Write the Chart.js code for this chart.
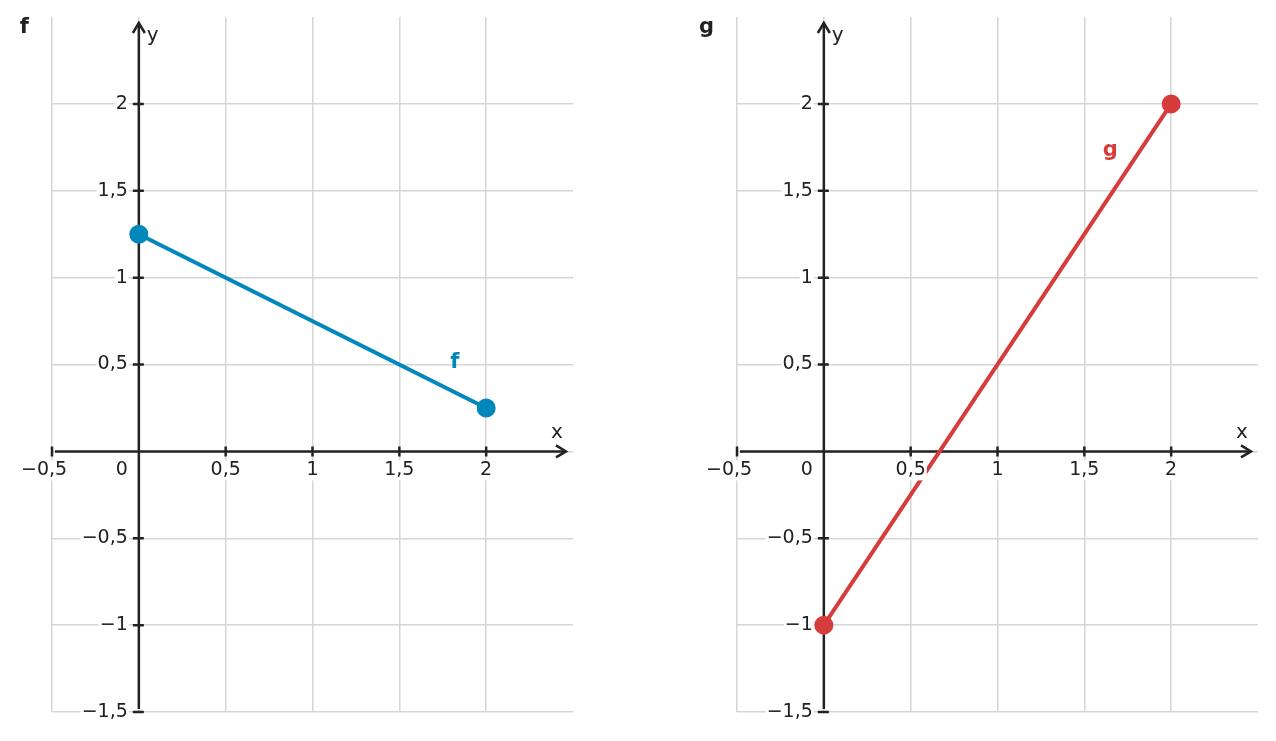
<!DOCTYPE html>
<html>
<head>
<meta charset="utf-8">
<script src="https://cdn.jsdelivr.net/npm/chart.js@4"></script>
<style>
  body { margin: 0; background: #fff; }
  .box { position: absolute; top: 0; width: 638px; height: 741px; }
</style>
</head>
<body>
<div class="box" style="left:0px"><canvas id="cf"></canvas></div>
<div class="box" style="left:685px"><canvas id="cg"></canvas></div>
<script>
// ******************************************************** DATA
var fX = [0, 2];
var fY = [1.25, 0.25];
var gX = [0, 2];
var gY = [-1, 2];
var xTicks = [-0.5, 0.5, 1, 1.5, 2];
var yTicks = [-1.5, -1, -0.5, 0.5, 1, 1.5, 2];

var FONT = "'DejaVu Sans', sans-serif";
var AXIS = '#222222';

function fmt(v) {
  return (v < 0 ? '\u2212' : '') + String(Math.abs(v)).replace('.', ',');
}

// ******************************************************** AXES PLUGIN
var axesPlugin = {
  id: 'axesAtZero',
  beforeDatasetsDraw: function (chart) {
    var ctx = chart.ctx, xs = chart.scales.x, ys = chart.scales.y;
    var x0 = xs.getPixelForValue(0), y0 = ys.getPixelForValue(0);
    var xl = xs.getPixelForValue(-0.5) + 3, xr = xs.getPixelForValue(2.5) - 7;
    var yb = ys.getPixelForValue(-1.5) - 3, yt = ys.getPixelForValue(2.5) + 6;
    ctx.save();
    ctx.strokeStyle = AXIS; ctx.lineWidth = 2.5; ctx.lineCap = 'butt';
    ctx.beginPath();
    ctx.moveTo(xl, y0); ctx.lineTo(xr, y0);
    ctx.moveTo(x0, yb); ctx.lineTo(x0, yt);
    ctx.stroke();
    // arrow heads
    ctx.lineJoin = 'miter';
    ctx.beginPath();
    ctx.moveTo(xr - 10, y0 - 6); ctx.lineTo(xr, y0); ctx.lineTo(xr - 10, y0 + 6);
    ctx.moveTo(x0 - 6, yt + 10); ctx.lineTo(x0, yt); ctx.lineTo(x0 + 6, yt + 10);
    ctx.stroke();
    // tick marks
    ctx.beginPath();
    xTicks.forEach(function (v) {
      var p = xs.getPixelForValue(v);
      ctx.moveTo(p, y0 - 5); ctx.lineTo(p, y0 + 5);
    });
    yTicks.forEach(function (v) {
      var p = ys.getPixelForValue(v);
      ctx.moveTo(x0 - 6, p); ctx.lineTo(x0 + 5, p);
    });
    ctx.stroke();
    ctx.restore();
  },
  afterDatasetsDraw: function (chart, args, opts) {
    var ctx = chart.ctx, xs = chart.scales.x, ys = chart.scales.y;
    var x0 = xs.getPixelForValue(0), y0 = ys.getPixelForValue(0);
    ctx.save();
    ctx.font = '19px ' + FONT;
    ctx.textBaseline = 'middle';
    ctx.textAlign = 'left';
    function label(t, lx, y) {
      var w = ctx.measureText(t).width;
      ctx.fillStyle = '#fff';
      ctx.fillRect(lx - 1, y - 10, w + 2, 20);
      ctx.fillStyle = AXIS;
      ctx.fillText(t, lx, y);
    }
    xTicks.forEach(function (v) {
      var t = fmt(v);
      // centre the number, let the minus sign hang out to the left
      var num = ctx.measureText(String(Math.abs(v)).replace('.', ',')).width;
      var w = ctx.measureText(t).width;
      label(t, xs.getPixelForValue(v) - num / 2 - (w - num), y0 + 19);
    });
    yTicks.forEach(function (v) {
      var t = fmt(v);
      label(t, x0 - 11 - ctx.measureText(t).width, ys.getPixelForValue(v));
    });
    label('0', x0 - 11 - ctx.measureText('0').width, y0 + 19);
    ctx.fillStyle = AXIS;
    ctx.font = '20px ' + FONT;
    ctx.fillText('y', x0 + 8, ys.getPixelForValue(2.5) + 19);
    ctx.fillText('x', xs.getPixelForValue(2.5) - 22, y0 - 19);
    // panel title
    ctx.font = 'bold 21px ' + FONT;
    ctx.textAlign = 'right';
    ctx.fillText(opts.title, xs.left - 23, 28);
    // curve name
    ctx.fillStyle = opts.color;
    ctx.textAlign = 'center';
    ctx.fillText(opts.title, xs.getPixelForValue(opts.nameAt[0]), ys.getPixelForValue(opts.nameAt[1]));
    ctx.restore();
  }
};

function makeChart(id, xs, ys, color, title, nameAt) {
  var pts = xs.map(function (x, i) { return { x: x, y: ys[i] }; });
  var gridCol = function (c) { return c.tick && c.tick.value >= 2.5 ? 'rgba(0,0,0,0)' : '#d6d6d6'; };
  var el = document.getElementById(id);
  el.width = 638; el.height = 741;
  return new Chart(el.getContext('2d'), {
    type: 'scatter',
    data: {
      datasets: [{
        data: pts,
        showLine: true,
        borderColor: color,
        backgroundColor: color,
        borderWidth: 4,
        pointRadius: 7.5,
        pointHoverRadius: 7.5,
        clip: false
      }]
    },
    options: {
      responsive: false,
      animation: false,
      events: [],
      layout: { padding: { left: 52, top: 17, right: 65, bottom: 29 } },
      plugins: {
        legend: { display: false },
        tooltip: { enabled: false },
        axesAtZero: { title: title, color: color, nameAt: nameAt }
      },
      scales: {
        x: {
          type: 'linear', min: -0.5, max: 2.5,
          ticks: { display: false, stepSize: 0.5 },
          border: { display: false },
          grid: { color: gridCol, lineWidth: 1.5, drawTicks: false }
        },
        y: {
          type: 'linear', min: -1.5, max: 2.5,
          ticks: { display: false, stepSize: 0.5 },
          border: { display: false },
          grid: { color: gridCol, lineWidth: 1.5, drawTicks: false }
        }
      }
    },
    plugins: [axesPlugin]
  });
}

// ******************************************************** CHARTS
makeChart('cf', fX, fY, '#0087bb', 'f', [1.82, 0.51]);
makeChart('cg', gX, gY, '#d63c3c', 'g', [1.65, 1.73]);
</script>
</body>
</html>
